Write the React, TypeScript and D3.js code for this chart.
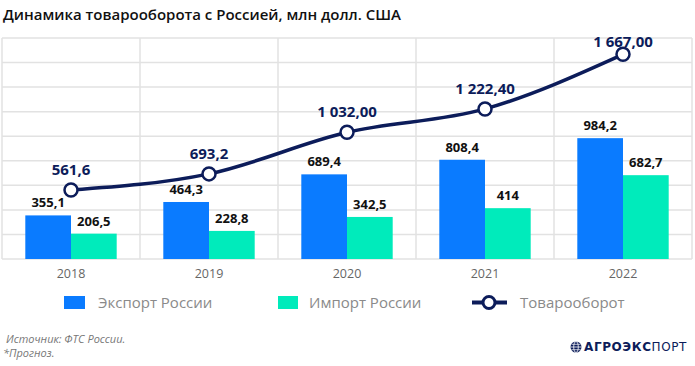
import React from 'react';
import * as d3 from 'd3';

const years = ['2018', '2019', '2020', '2021', '2022'];
const exportVals = [355.1, 464.3, 689.4, 808.4, 984.2];
const importVals = [206.5, 228.8, 342.5, 414, 682.7];
const exportLabels = ['355,1', '464,3', '689,4', '808,4', '984,2'];
const importLabels = ['206,5', '228,8', '342,5', '414', '682,7'];
const turnoverVals = [561.6, 693.2, 1032.0, 1222.4, 1667.0];
const turnoverLabels = ['561,6', '693,2', '1 032,00', '1 222,40', '1 667,00'];
const seriesNames = ['Экспорт России', 'Импорт России'];

const W = 695;
const H = 366;
const margin = { top: 38, right: 3, bottom: 107, left: 2 };
const BLUE = '#0a7bff';
const GREEN = '#00ebbb';
const NAVY = '#0c1c5a';
const FONT = "'Open Sans', 'Noto Sans', sans-serif";

const App = () => {
  const x = d3.scaleBand().domain(years).range([margin.left, W - margin.right]).padding(0);
  const x1 = d3.scaleBand().domain(seriesNames).range([0, x.bandwidth()]).paddingInner(0).paddingOuter(0.51);
  const y = d3.scaleLinear().domain([0, 1800]).range([H - margin.bottom, margin.top]);
  const yTicks = y.ticks(9);
  const cx = (i: number) => (x(years[i]) as number) + x.bandwidth() / 2;

  const line = d3.line<number>()
    .x((_, i) => cx(i))
    .y(d => y(d))
    .curve(d3.curveMonotoneX);

  const barSets = [
    { name: seriesNames[0], vals: exportVals, labels: exportLabels, color: BLUE },
    { name: seriesNames[1], vals: importVals, labels: importLabels, color: GREEN },
  ];

  return (
    <svg width={W} height={H} style={{ position: 'absolute', left: 0, top: 0, background: '#fff' }} fontFamily={FONT}>
      <text x={3} y={20} fontSize={15} fontWeight={600} fill="#111">
        Динамика товарооборота с Россией, млн долл. США
      </text>

      {/* grid */}
      <g stroke="#e2e2e2" strokeWidth={1.5}>
        {yTicks.map(t => (
          <line key={t} x1={margin.left} x2={W - margin.right} y1={y(t)} y2={y(t)} />
        ))}
        {years.map(yr => (
          <line key={yr} x1={x(yr)} x2={x(yr)} y1={margin.top} y2={y(0)} />
        ))}
        <line x1={W - margin.right} x2={W - margin.right} y1={margin.top} y2={y(0)} />
      </g>

      {/* bars */}
      {barSets.map(s => (
        <g key={s.name}>
          {s.vals.map((v, i) => {
            const bx = (x(years[i]) as number) + (x1(s.name) as number);
            return (
              <g key={i}>
                <rect x={bx} y={y(v)} width={x1.bandwidth()} height={y(0) - y(v)} fill={s.color} />
                <text x={bx + x1.bandwidth() / 2} y={y(v) - 8} textAnchor="middle" fontSize={13} fontWeight={700} fill="#111">
                  {s.labels[i]}
                </text>
              </g>
            );
          })}
        </g>
      ))}

      {/* turnover line */}
      <path d={line(turnoverVals) || ''} fill="none" stroke={NAVY} strokeWidth={3.5} />
      {turnoverVals.map((v, i) => (
        <g key={i}>
          <circle cx={cx(i)} cy={y(v)} r={6.5} fill="#fff" stroke={NAVY} strokeWidth={2.5} />
          <text x={cx(i)} y={Math.max(y(v) - 15, margin.top + 9)} textAnchor="middle" fontSize={15} fontWeight={700} fill={NAVY}>
            {turnoverLabels[i]}
          </text>
        </g>
      ))}

      {/* x axis labels */}
      {years.map((yr, i) => (
        <text key={yr} x={cx(i)} y={278} textAnchor="middle" fontSize={12.5} fill="#666">
          {yr}
        </text>
      ))}

      {/* legend */}
      <g fontSize={15} fill="#8a8a8a">
        <rect x={64} y={296} width={21} height={13} fill={BLUE} />
        <text x={98} y={308}>{seriesNames[0]}</text>
        <rect x={278} y={296} width={20} height={13} fill={GREEN} />
        <text x={309} y={308}>{seriesNames[1]}</text>
        <line x1={472} x2={507} y1={302.5} y2={302.5} stroke={NAVY} strokeWidth={4} />
        <circle cx={489} cy={302.5} r={6} fill="#fff" stroke={NAVY} strokeWidth={3} />
        <text x={520} y={308}>Товарооборот</text>
      </g>

      {/* footer */}
      <g fontSize={11} fontStyle="italic" fill="#777">
        <text x={6} y={343}>Источник: ФТС России.</text>
        <text x={3} y={357}>*Прогноз.</text>
      </g>

      {/* logo */}
      <g>
        <circle cx={576} cy={347} r={5.5} fill={NAVY} />
        <ellipse cx={576} cy={347} rx={2.3} ry={5.5} fill="none" stroke="#fff" strokeWidth={0.8} />
        <line x1={570.5} x2={581.5} y1={347} y2={347} stroke="#fff" strokeWidth={0.8} />
        <line x1={571.5} x2={580.5} y1={344.3} y2={344.3} stroke="#fff" strokeWidth={0.7} />
        <line x1={571.5} x2={580.5} y1={349.7} y2={349.7} stroke="#fff" strokeWidth={0.7} />
        <text x={584} y={351} fontSize={12} letterSpacing={0.6} fill={NAVY} fontFamily="'DejaVu Sans', sans-serif">
          <tspan fontWeight={700}>АГРОЭКС</tspan>
          <tspan fontWeight={400}>ПОРТ</tspan>
        </text>
      </g>
    </svg>
  );
};

export default App;
